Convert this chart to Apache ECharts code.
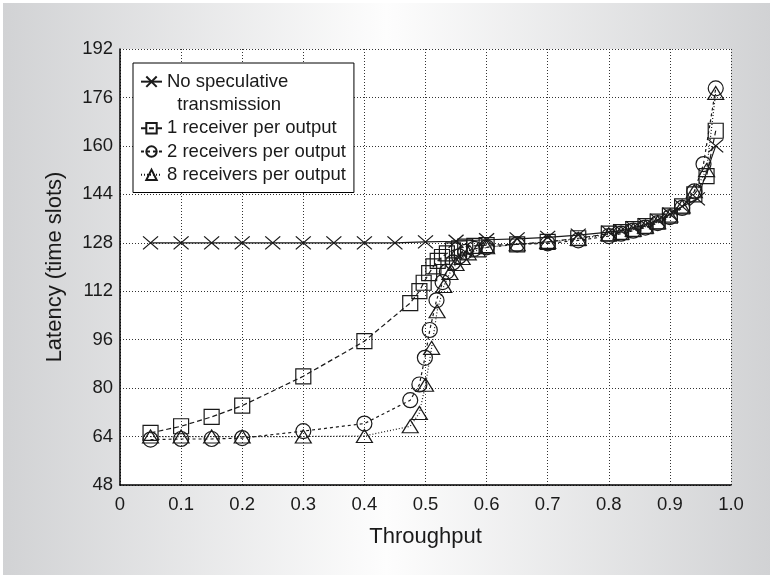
<!DOCTYPE html>
<html>
<head>
<meta charset="utf-8">
<title>Latency vs throughput</title>
<script src="https://cdn.jsdelivr.net/npm/echarts@6/dist/echarts.min.js"></script>
<style>
    html, body { margin: 0; padding: 0; background: #fff; }
    #chart { width: 773px; height: 578px; }
</style>
</head>
<body>
<div id="chart"></div>
<script>
// Legend names
const seriesNames = [
    'No speculative transmission',
    '1 receiver per output',
    '2 receivers per output',
    '8 receivers per output'
];

// Axis ticks
const xTickLabels = ['0', '0.1', '0.2', '0.3', '0.4', '0.5', '0.6', '0.7', '0.8', '0.9', '1.0'];
const yTickLabels = ['48', '64', '80', '96', '112', '128', '144', '160', '176', '192'];

// No speculative transmission (x markers, solid)
const noSpecX = [0.05, 0.1, 0.15, 0.2, 0.25, 0.3, 0.35, 0.4, 0.45, 0.5, 0.55, 0.6, 0.65, 0.7, 0.75, 0.8, 0.82, 0.84, 0.86, 0.88, 0.9, 0.92, 0.945, 0.975];
const noSpecY = [128, 128, 128, 128, 128, 128, 128, 128, 128, 128.3, 128.5, 129, 129.3, 129.8, 130.5, 131.5, 132, 133, 134, 135.5, 137.5, 140, 142.5, 160];

// 1 receiver per output (squares, dashed)
const oneRecvX = [0.05, 0.1, 0.15, 0.2, 0.3, 0.4, 0.475, 0.49, 0.497, 0.506, 0.513, 0.52, 0.527, 0.535, 0.545, 0.555, 0.565, 0.58, 0.6, 0.65, 0.7, 0.75, 0.8, 0.82, 0.84, 0.86, 0.88, 0.9, 0.92, 0.94, 0.96, 0.975];
const oneRecvY = [65.2, 67.4, 70.5, 74.2, 83.9, 95.5, 108.1, 112, 114.8, 118, 120.2, 122, 123.3, 124.5, 125.5, 126.2, 126.7, 127, 127.2, 127.5, 128.3, 129.5, 131, 131.5, 132.5, 133.5, 135, 137, 140, 144, 150, 165];

// 2 receivers per output (circles, short dashes)
const twoRecvX = [0.05, 0.1, 0.15, 0.2, 0.3, 0.4, 0.475, 0.49, 0.499, 0.507, 0.518, 0.528, 0.535, 0.545, 0.555, 0.565, 0.58, 0.6, 0.65, 0.7, 0.75, 0.8, 0.82, 0.84, 0.86, 0.88, 0.9, 0.92, 0.94, 0.955, 0.975];
const twoRecvY = [63, 63.2, 63.2, 63.5, 65.8, 68.3, 76, 81.2, 90, 99.2, 109, 115, 118.5, 121.5, 123.5, 125, 126, 126.5, 127.5, 127.8, 128.8, 130.2, 131, 132, 133, 134.5, 136.5, 139.5, 145, 154, 179];

// 8 receivers per output (triangles, dotted)
const eightRecvX = [0.05, 0.1, 0.15, 0.2, 0.3, 0.4, 0.475, 0.49, 0.5, 0.51, 0.519, 0.53, 0.54, 0.55, 0.56, 0.57, 0.585, 0.6, 0.65, 0.7, 0.75, 0.8, 0.82, 0.84, 0.86, 0.88, 0.9, 0.92, 0.94, 0.96, 0.975];
const eightRecvY = [64, 64, 64, 64, 64, 64.2, 67.4, 71.8, 81.1, 93.3, 105.4, 113.7, 118, 121, 123, 124.5, 125.5, 126.5, 127.5, 128.3, 129.3, 130.8, 131.3, 132.3, 133.3, 134.8, 137, 140, 145, 152, 177.5];

function zip(xs, ys) {
    return xs.map((x, i) => [x, ys[i]]);
}

const fontFamily = '"Liberation Sans", Arial, Helvetica, sans-serif';
const ink = '#1a1a1a';
const rowH = 23.3;

const chart = echarts.init(document.getElementById('chart'), null, { renderer: 'canvas' });

function lineSeries(name, data, symbol, size, dash) {
    return {
        name: name,
        type: 'line',
        data: data,
        symbol: symbol,
        symbolSize: size,
        showAllSymbol: true,
        smooth: false,
        itemStyle: { color: 'transparent', borderColor: ink, borderWidth: 1.2 },
        lineStyle: { color: ink, width: 1.2, type: dash },
        emphasis: { disabled: true },
        animation: false
    };
}

// first legend entry wraps; an empty row on top keeps the icon beside the first line
function legendText(name) {
    if (name === seriesNames[0]) {
        return '{e| }\n{t|No speculative}\n{t|  transmission}';
    }
    return '{t|' + name + '}';
}

chart.setOption({
    backgroundColor: new echarts.graphic.LinearGradient(0, 0, 1, 0, [
        { offset: 0, color: '#d1d2d4' },
        { offset: 0.5, color: '#fdfdfd' },
        { offset: 1, color: '#d1d2d4' }
    ]),
    graphic: [{
        type: 'rect',
        silent: true,
        shape: { x: 0, y: 0, width: 773, height: 578 },
        style: { fill: 'none', stroke: '#ffffff', lineWidth: 6 }
    }],
    textStyle: { fontFamily: fontFamily, color: ink },
    grid: {
        left: 120, right: 42, top: 49, bottom: 93,
        show: true, backgroundColor: '#ffffff', borderWidth: 0
    },
    legend: {
        orient: 'vertical',
        left: 133,
        top: 63,
        itemWidth: 21,
        itemHeight: 13,
        itemGap: 0,
        padding: [7 - rowH, 8, 6, 7],
        backgroundColor: '#ffffff',
        borderColor: '#000000',
        borderWidth: 1,
        borderRadius: 0,
        formatter: legendText,
        textStyle: {
            fontSize: 18.5, lineHeight: rowH, color: ink, fontFamily: fontFamily,
            rich: {
                e: { fontSize: 18.5, lineHeight: rowH, height: rowH },
                t: { fontSize: 18.5, lineHeight: rowH, color: ink, fontFamily: fontFamily }
            }
        },
        data: seriesNames
    },
    xAxis: {
        type: 'value',
        min: 0, max: 1, interval: 0.1,
        name: 'Throughput',
        nameLocation: 'middle',
        nameGap: 41,
        nameTextStyle: { fontSize: 22, color: ink },
        axisLine: { show: true, onZero: false, lineStyle: { color: '#000', width: 1.5 } },
        axisTick: { show: false },
        axisLabel: {
            fontSize: 18.5, color: ink, margin: 10,
            formatter: v => xTickLabels[Math.round(v * 10)]
        },
        splitLine: { show: true, lineStyle: { color: '#333', width: 1, type: [1, 2] } }
    },
    yAxis: {
        type: 'value',
        min: 48, max: 192, interval: 16,
        name: 'Latency (time slots)',
        nameLocation: 'middle',
        nameGap: 54,
        nameTextStyle: { fontSize: 22, color: ink },
        axisLine: { show: true, onZero: false, lineStyle: { color: '#000', width: 1.5 } },
        axisTick: { show: false },
        axisLabel: {
            fontSize: 18.5, color: ink, margin: 7,
            formatter: v => yTickLabels[Math.round((v - 48) / 16)]
        },
        splitLine: { show: true, lineStyle: { color: '#333', width: 1, type: [1, 2] } }
    },
    series: [
        lineSeries(seriesNames[3], zip(eightRecvX, eightRecvY), 'triangle', [16, 13], [1, 2]),
        lineSeries(seriesNames[2], zip(twoRecvX, twoRecvY), 'circle', 15, [3, 3]),
        lineSeries(seriesNames[1], zip(oneRecvX, oneRecvY), 'rect', 15, [5, 3]),
        lineSeries(seriesNames[0], zip(noSpecX, noSpecY), 'path://M0,0L10,10M10,0L0,10', [15, 13], 'solid')
    ]
});
</script>
</body>
</html>
